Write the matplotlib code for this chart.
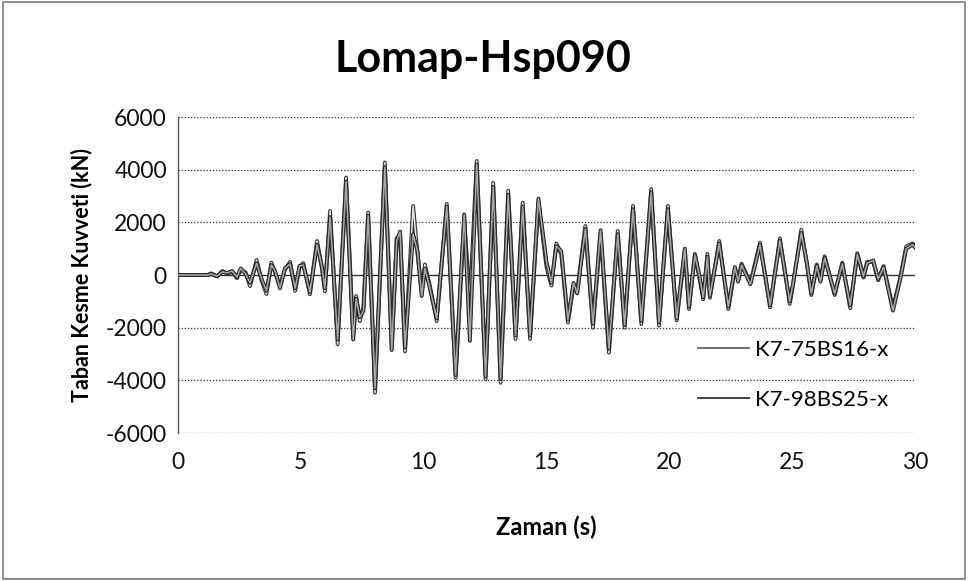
import matplotlib
matplotlib.use("Agg")
import matplotlib.pyplot as plt
import matplotlib.patheffects as pe
from matplotlib.patches import Rectangle
from matplotlib.lines import Line2D

plt.rcParams['font.family'] = ['Lato', 'DejaVu Sans']

title = "Lomap-Hsp090"
x_label = "Zaman (s)"
y_label = "Taban Kesme Kuvveti (kN)"
series_names = ["K7-75BS16-x", "K7-98BS25-x"]
x_ticks = [0, 5, 10, 15, 20, 25, 30]
y_ticks = [-6000, -4000, -2000, 0, 2000, 4000, 6000]

# time (s) of each turning point of the base shear records
time_s = [
    0.00, 1.20, 1.35, 1.60, 1.80, 2.00, 2.20, 2.40, 2.55, 2.75,
    2.93, 3.20, 3.40, 3.60, 3.80, 3.95, 4.15, 4.35, 4.56, 4.77,
    4.95, 5.10, 5.37, 5.50, 5.66, 5.85, 5.98, 6.19, 6.50, 6.84,
    7.13, 7.25, 7.40, 7.55, 7.74, 8.02, 8.42, 8.70, 8.90, 9.04,
    9.24, 9.57, 9.75, 9.92, 10.05, 10.25, 10.53, 10.94, 11.30, 11.65,
    11.88, 12.16, 12.52, 12.83, 13.13, 13.44, 13.74, 14.03, 14.33, 14.67,
    15.00, 15.20, 15.40, 15.60, 15.87, 16.10, 16.25, 16.58, 16.89, 17.20,
    17.54, 17.90, 18.18, 18.52, 18.86, 19.26, 19.58, 19.94, 20.30, 20.63,
    20.80, 21.04, 21.20, 21.38, 21.55, 21.65, 22.03, 22.40, 22.67, 22.80,
    22.94, 23.30, 23.69, 24.10, 24.50, 24.90, 25.03, 25.37, 25.60, 25.78,
    26.00, 26.15, 26.32, 26.73, 27.04, 27.36, 27.65, 27.90, 28.05, 28.30,
    28.50, 28.72, 29.10, 29.40, 29.64, 29.90, 30.00,
]

# K7-75BS16-x base shear (kN)
shear_75bs16 = [
    0, 0, 60, -60, 150, 60, 120, -120, 200, 100,
    -420, 570, -200, -720, 470, 100, -420, 200, 500, -600,
    300, 450, -730, 200, 1290, 300, -620, 2430, -2630, 3700,
    -2320, -800, -1750, -1200, 2370, -4470, 4270, -2760, 1400, 1500,
    -2900, 2620, 800, -640, 400, -400, -1750, 2700, -3900, 2130,
    -1000, 4330, -3960, 3500, -4090, 3200, -2430, 2750, -2430, 2780,
    300, -400, 1200, 800, -1800, -400, -600, 1860, -2000, 1600,
    -2950, 1670, -2000, 2620, -1860, 3260, -1920, 2620, -1720, 920,
    -1290, 800, 0, -920, 800, -860, 1290, -1290, 250, -200,
    430, -300, 1230, -1230, 1390, -1100, -400, 1720, 400, -760,
    400, -200, 710, -760, 470, -1250, 830, -100, 500, 500,
    -200, 340, -1250, -100, 1080, 1200, 1100,
]

# K7-98BS25-x base shear (kN)
shear_98bs25 = [
    0, 0, 40, -40, 120, 80, 150, -80, 250, 50,
    -300, 450, -150, -600, 380, 150, -500, 250, 420, -500,
    350, 380, -650, 150, 1150, 350, -500, 2200, -2450, 3550,
    -2450, -900, -1600, -1350, 2250, -4300, 4100, -2850, 1300, 1650,
    -2750, 1550, 900, -800, 250, -500, -1650, 2600, -3800, 2300,
    -2500, 4200, -3850, 3350, -3950, 3050, -2300, 2600, -2300, 2900,
    500, -300, 1100, 900, -1700, -300, -700, 1750, -1850, 1700,
    -2800, 1550, -1900, 2500, -1750, 3150, -1800, 2500, -1650, 1000,
    -1200, 750, 100, -850, 700, -800, 1200, -1200, 300, -250,
    380, -350, 1150, -1150, 1300, -1000, -350, 1600, 450, -700,
    350, -250, 650, -700, 420, -1150, 780, -50, 450, 550,
    -150, 300, -1350, -150, 1000, 1150, 1050,
]

fig = plt.figure(figsize=(9.69, 5.81), dpi=100)
fig.patch.set_facecolor("white")
fig.patches.append(Rectangle((0.003, 0.004), 0.993, 0.992, transform=fig.transFigure,
                             fill=False, edgecolor="#7a7a7a", linewidth=1.2))

ax = fig.add_axes([0.1837, 0.2547, 0.7606, 0.5439])
ax.set_xlim(0, 30)
ax.set_ylim(-6000, 6000)

# dotted horizontal gridlines
for yv in y_ticks:
    if yv != 0:
        ax.axhline(yv, color="#333333", linestyle=(0, (1, 1.5)), linewidth=0.9, zorder=1)
ax.axhline(0, color="#333333", linewidth=1.0, zorder=1)

styles = [("#e6e6e6", "#3a3a3a"), ("#a8a8a8", "#2a2a2a")]
for vals, (inner, edge) in zip([shear_75bs16, shear_98bs25], styles):
    ax.plot(time_s, vals, color=inner, linewidth=1.1, zorder=3,
            path_effects=[pe.Stroke(linewidth=2.8, foreground=edge), pe.Normal()])

for side in ["top", "right", "bottom"]:
    ax.spines[side].set_visible(False)
ax.spines["left"].set_color("#555555")
ax.spines["left"].set_linewidth(1.0)

ax.set_xticks(x_ticks)
ax.set_yticks(y_ticks)
ax.set_xticklabels([str(v) for v in x_ticks])
ax.set_yticklabels([str(v) for v in y_ticks])
ax.tick_params(axis="both", length=0, labelsize=16.5, colors="#111111")
ax.tick_params(axis="x", pad=14)
ax.tick_params(axis="y", pad=8)

ax.set_xlabel(x_label, fontsize=17, fontweight="bold", labelpad=30)
ax.set_ylabel(y_label, fontsize=15.5, fontweight="bold", labelpad=10)
fig.text(0.498, 0.898, title, ha="center", va="center", fontsize=31, fontweight="bold")

handles = [Line2D([], [], color="#6e6e6e", linewidth=1.4),
           Line2D([], [], color="#444444", linewidth=1.4)]
leg = ax.legend(handles, series_names, loc="center left", bbox_to_anchor=(0.69, 0.185),
                frameon=False, fontsize=16, handlelength=2.3, handletextpad=0.3,
                labelspacing=1.35, borderpad=0.0)

fig.savefig("out.png", dpi=100)
